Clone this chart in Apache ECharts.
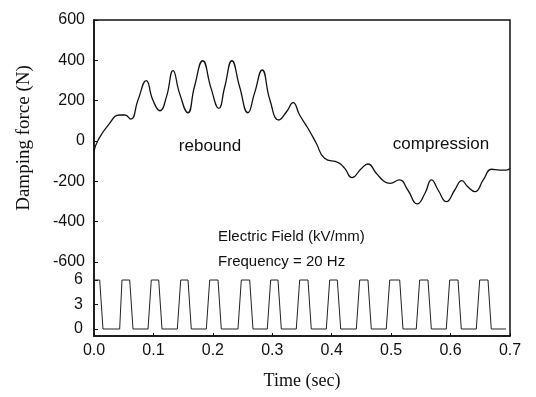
<!DOCTYPE html>
<html>
<head>
<meta charset="utf-8">
<script src="https://cdn.jsdelivr.net/npm/echarts@6/dist/echarts.min.js"></script>
<style>
  html, body { margin: 0; padding: 0; background: #fff; }
  #chart { width: 536px; height: 397px; }
</style>
</head>
<body>
<div id="chart"></div>
<script>
// damping force trace (time in s, force in N)
const forceTime = [0, 0.007, 0.024, 0.043, 0.052, 0.062, 0.074, 0.088, 0.099, 0.111, 0.122, 0.133, 0.144,
  0.158, 0.169, 0.183, 0.197, 0.210, 0.220, 0.232, 0.245, 0.259, 0.270, 0.283, 0.296, 0.311, 0.324,
  0.335, 0.346, 0.360, 0.374, 0.388, 0.411, 0.422, 0.434, 0.450, 0.461, 0.475, 0.489, 0.498, 0.514,
  0.528, 0.544, 0.557, 0.568, 0.579, 0.593, 0.607, 0.619, 0.629, 0.641, 0.655, 0.669, 0.683, 0.694, 0.700]
const forceValues = [-50, 5, 79, 129, 129, 108, 203, 299, 203, 150, 220, 349, 236,
  140, 269, 398, 261, 162, 269, 398, 269, 140, 236, 352, 203, 104, 145,
  190, 129, 63, -11, -86, -107, -136, -182, -136, -114, -160, -202, -210, -193,
  -243, -312, -259, -193, -243, -301, -243, -197, -227, -251, -193, -140, -144, -144, -136]

// electric field pulses (kV/mm), edge times
const fieldTime = [0, 0.0096, 0.0151,
  0.0432, 0.0471, 0.0601, 0.0656,
  0.0909, 0.0964, 0.1089, 0.1144,
  0.1402, 0.1459, 0.1582, 0.1637,
  0.1890, 0.1947, 0.2087, 0.2142,
  0.2423, 0.2479, 0.2620, 0.2675,
  0.2916, 0.2973, 0.3096, 0.3152,
  0.3404, 0.3461, 0.3601, 0.3656,
  0.3909, 0.3966, 0.4094, 0.4151,
  0.4414, 0.4471, 0.4610, 0.4666,
  0.4918, 0.4976, 0.5144, 0.5199,
  0.5423, 0.5480, 0.5620, 0.5676,
  0.5928, 0.5985, 0.6125, 0.6180,
  0.6433, 0.6490, 0.6630, 0.6685,
  0.6933]
const fieldValues = [6, 6, 0,
  0, 6, 6, 0,
  0, 6, 6, 0,
  0, 6, 6, 0,
  0, 6, 6, 0,
  0, 6, 6, 0,
  0, 6, 6, 0,
  0, 6, 6, 0,
  0, 6, 6, 0,
  0, 6, 6, 0,
  0, 6, 6, 0,
  0, 6, 6, 0,
  0, 6, 6, 0,
  0, 6, 6, 0,
  0]

const forceTicks = [-600, -400, -200, 0, 200, 400, 600]
const fieldTicks = [0, 3, 6]
const timeTicks = ['0.0', '0.1', '0.2', '0.3', '0.4', '0.5', '0.6', '0.7']

const INK = '#111'
const TICK_LABEL = { color: INK, fontSize: 16, fontFamily: 'Liberation Sans' }
const SERIF = 'Liberation Serif'

const chart = echarts.init(document.getElementById('chart'))
chart.setOption({
  animation: false,
  backgroundColor: '#fff',
  grid: { left: 94, right: 26, top: 20, bottom: 61, show: true, borderColor: INK, borderWidth: 1.5 },
  xAxis: {
    type: 'value', min: 0, max: 0.7, interval: 0.1,
    name: 'Time (sec)', nameLocation: 'middle', nameGap: 36,
    nameTextStyle: { color: INK, fontSize: 18, fontFamily: SERIF },
    axisLine: { onZero: false, lineStyle: { color: INK, width: 1.5 } },
    axisTick: { inside: true, length: 3, lineStyle: { color: INK } },
    axisLabel: { ...TICK_LABEL, margin: 7, formatter: v => timeTicks[Math.round(v * 10)] },
    splitLine: { show: false }
  },
  yAxis: [
    {
      type: 'value', min: -967, max: 600, position: 'left',
      axisLine: { show: true, onZero: false, lineStyle: { color: INK, width: 1.5 } },
      axisTick: { inside: true, length: 4, customValues: forceTicks, lineStyle: { color: INK } },
      axisLabel: { ...TICK_LABEL, margin: 9, customValues: forceTicks },
      splitLine: { show: false }
    },
    {
      type: 'value', min: -0.857, max: 37.84, position: 'left', offset: 0,
      axisLine: { show: false, onZero: false },
      axisTick: { show: true, inside: true, length: 4, customValues: fieldTicks, lineStyle: { color: INK } },
      axisLabel: { ...TICK_LABEL, margin: 11, customValues: fieldTicks },
      splitLine: { show: false }
    }
  ],
  graphic: [
    { type: 'text', x: 24, y: 138, rotation: Math.PI / 2,
      style: { text: 'Damping force (N)', fill: INK, fontSize: 19, fontFamily: SERIF, align: 'center', verticalAlign: 'middle' } },
    { type: 'text', x: 210, y: 146,
      style: { text: 'rebound', fill: INK, fontSize: 17, fontFamily: 'Liberation Sans', align: 'center', verticalAlign: 'middle' } },
    { type: 'text', x: 441, y: 144,
      style: { text: 'compression', fill: INK, fontSize: 17, fontFamily: 'Liberation Sans', align: 'center', verticalAlign: 'middle' } },
    { type: 'text', x: 218, y: 237,
      style: { text: 'Electric Field (kV/mm)', fill: INK, fontSize: 15, fontFamily: 'Liberation Sans', align: 'left', verticalAlign: 'middle' } },
    { type: 'text', x: 218, y: 262,
      style: { text: 'Frequency = 20 Hz', fill: INK, fontSize: 15, fontFamily: 'Liberation Sans', align: 'left', verticalAlign: 'middle' } }
  ],
  series: [
    {
      name: 'Damping force', type: 'line', yAxisIndex: 0, smooth: 0.5, showSymbol: false,
      lineStyle: { color: INK, width: 1.3 },
      data: forceTime.map((t, i) => [t, forceValues[i]])
    },
    {
      name: 'Electric field', type: 'line', yAxisIndex: 1, showSymbol: false,
      lineStyle: { color: '#222', width: 1 },
      data: fieldTime.map((t, i) => [t, fieldValues[i]])
    }
  ]
})
</script>
</body>
</html>
